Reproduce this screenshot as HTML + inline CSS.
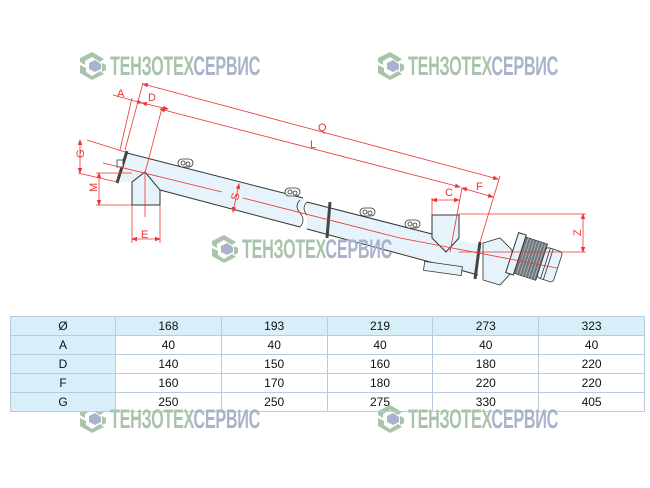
<!DOCTYPE html>
<html><head><meta charset="utf-8"><style>
html,body{margin:0;padding:0;background:#fff;width:650px;height:488px;overflow:hidden;position:relative}
svg{position:absolute;left:0;top:0}
table{position:absolute;left:10px;top:316px;width:635px;border-collapse:collapse;font-family:"Liberation Sans Narrow","Liberation Sans",sans-serif;font-size:12px;color:#111}
td{border:1px solid #b9cbdc;height:18px;padding:0;text-align:center;line-height:18px}
td.h{background:#d8eff9;width:104px}
tr.hd td{background:#d8eff9}
.wm{position:absolute;font-family:"Liberation Sans",sans-serif;font-weight:bold;font-size:27px;letter-spacing:-0.5px;transform:scaleX(0.6);transform-origin:left top;white-space:nowrap;line-height:27px}
.g{color:#a9c4aa}.b{color:#a9b3cb}
</style></head><body>
<svg width="650" height="488" viewBox="0 0 650 488" xmlns="http://www.w3.org/2000/svg">
<defs>
<marker id="ar" markerWidth="6" markerHeight="6" refX="5" refY="3" orient="auto-start-reverse" markerUnits="userSpaceOnUse"><path d="M0,0.8 L6,3 L0,5.2z" fill="#e33"/></marker>
<g id="logo">
<path d="M12,0 L24,7 L20,10 L12,5 L5,9 L5,13 L0,10 L0,6z" fill="#a9c4aa"/>
<path d="M0,13 L6,16 L6,20 L12,24 L20,19 L24,22 L12,28 L0,21z" fill="#a9c4aa"/>
<path d="M9,11 L15,8 L21,12 L21,17 L15,20 L9,17z" fill="#a9b3cb"/>
<path d="M22,11 L26,13 L26,18 L22,20z" fill="#a9c4aa"/>
</g>
</defs>
<use href="#logo" x="80" y="52"/><use href="#logo" x="378" y="52"/><use href="#logo" x="212" y="235"/><use href="#logo" x="80" y="405"/><use href="#logo" x="378" y="405"/>

<!-- tube left segment -->
<polygon points="127,153 303,198 300,227 160,190 160,205 132,205 132,182 120,182" fill="#e6f3fb"/>
<path d="M127,153 L303,198 M160,190 L300,227" stroke="#333" stroke-width="1" fill="none"/>
<polygon points="145,172 160,190 160,205 132,205 132,182" fill="#e6f3fb" stroke="#333" stroke-width="1"/>
<path d="M300,200 q-6,6 0,13 q6,7 0,14 M307,202 q-6,6 0,13 q6,7 0,14" stroke="#333" fill="none" stroke-width="0.8"/>
<!-- tube right segment -->
<polygon points="307,202 432,234 432,215 459,215 459,240 480,245 478,275 460,270 400,253 307,229" fill="#e6f3fb"/>
<path d="M307,202 L432,234 M307,229 L460,270 L478,275" stroke="#333" stroke-width="1" fill="none"/>
<polygon points="432,215 459,215 459,238 446,252 432,238" fill="#e6f3fb" stroke="#333" stroke-width="1"/>
<!-- flanges -->
<path d="M127,151 L117,183" stroke="#444" stroke-width="3"/>
<rect x="117" y="160" width="6" height="7" fill="#fff" stroke="#333" stroke-width="0.8"/>
<path d="M330,202 L327,238" stroke="#444" stroke-width="3"/>
<path d="M480,242 L475,279" stroke="#444" stroke-width="3"/>
<!-- lugs -->
<g fill="#fff" stroke="#333" stroke-width="0.8">
<rect x="178" y="159" width="15" height="8" rx="4"/><circle cx="183" cy="163" r="2"/><circle cx="188" cy="164" r="2"/>
<rect x="285" y="188" width="15" height="8" rx="4"/><circle cx="290" cy="192" r="2"/><circle cx="295" cy="193" r="2"/>
<rect x="360" y="208" width="15" height="8" rx="4"/><circle cx="365" cy="212" r="2"/><circle cx="370" cy="213" r="2"/>
<rect x="405" y="220" width="15" height="8" rx="4"/><circle cx="410" cy="224" r="2"/><circle cx="415" cy="225" r="2"/>
</g>
<rect x="424" y="264" width="38" height="9" fill="#e6f3fb" stroke="#333" stroke-width="0.8" transform="rotate(8 443 268)"/>
<!-- gearbox & motor -->
<polygon points="483,243 500,238 512,250 512,272 500,285 483,280" fill="#e6f3fb" stroke="#333" stroke-width="0.8"/>
<g transform="rotate(18 535 260)">
<rect x="511" y="239" width="8" height="42" fill="#e6f3fb" stroke="#333" stroke-width="1"/>
<rect x="519" y="241" width="23" height="38" fill="#6f7a80" stroke="#333" stroke-width="0.8"/>
<path d="M522,241v38M525,241v38M528,241v38M531,241v38M534,241v38M537,241v38M540,241v38" stroke="#ccc" stroke-width="0.6"/>
<rect x="542" y="244" width="17" height="32" rx="3" fill="#e6f3fb" stroke="#333" stroke-width="0.8"/>
<path d="M546,244v32M549,244v32" stroke="#333" stroke-width="0.8"/>
</g>

<!-- red centre/dim lines -->
<g stroke="#e33" stroke-width="0.8" fill="none">
<path d="M103,163 L222,192 M243,198 L400,238 L557,268"/>
<path d="M145,173 L145,217 M145,173 L162,108"/>
<path d="M125,150 L143,83 M120,150 L132,98"/>
<path d="M143,84 L498,179" marker-start="url(#ar)" marker-end="url(#ar)"/>
<path d="M160,109 L460,187" marker-start="url(#ar)" marker-end="url(#ar)"/>
<path d="M113,95 L142,103" marker-end="url(#ar)"/>
<path d="M142,103 L168,109" marker-start="url(#ar)" marker-end="url(#ar)"/>
<path d="M87,140 L125,152 M78,173 L117,182"/>
<path d="M80,140 L80,173" marker-start="url(#ar)" marker-end="url(#ar)"/>
<path d="M96,173 L132,173 M96,205 L132,205"/>
<path d="M99,173 L99,205" marker-start="url(#ar)" marker-end="url(#ar)"/>
<path d="M132,205 L132,243 M160,205 L160,243"/>
<path d="M132,239 L160,239" marker-start="url(#ar)" marker-end="url(#ar)"/>
<path d="M239,184 L233,212" marker-start="url(#ar)" marker-end="url(#ar)"/>
<path d="M432,198 L432,215 M462,188 L450,252 M500,176 L480,242"/>
<path d="M432,200 L459,200" marker-start="url(#ar)" marker-end="url(#ar)"/>
<path d="M462,188 L493,197" marker-start="url(#ar)" marker-end="url(#ar)"/>
<path d="M459,214 L586,214 M459,252 L586,252"/>
<path d="M583,214 L583,252" marker-start="url(#ar)" marker-end="url(#ar)"/>
</g>
<g fill="#e33" font-family="Liberation Sans,sans-serif" font-size="11">
<text x="117" y="97">A</text><text x="148" y="101">D</text>
<text x="318" y="131">Q</text><text x="310" y="148">L</text>
<text x="445" y="196">C</text><text x="476" y="190">F</text>
<text x="141" y="238">E</text>
<text transform="translate(84,158) rotate(-90)">G</text>
<text transform="translate(97,192) rotate(-90)">M</text>
<text transform="translate(238,201) rotate(-76)">S</text>
<text transform="translate(581,236) rotate(-90)">Z</text>
</g>
</svg>
<div class="wm" style="left:110px;top:53px"><span class="g">ТЕНЗОТЕХ</span><span class="b">СЕРВИС</span></div>
<div class="wm" style="left:408px;top:53px"><span class="g">ТЕНЗОТЕХ</span><span class="b">СЕРВИС</span></div>
<div class="wm" style="left:242px;top:236px"><span class="g">ТЕНЗОТЕХ</span><span class="b">СЕРВИС</span></div>
<table>
<tr class="hd"><td class="h">Ø</td><td>168</td><td>193</td><td>219</td><td>273</td><td>323</td></tr>
<tr><td class="h">A</td><td>40</td><td>40</td><td>40</td><td>40</td><td>40</td></tr>
<tr><td class="h">D</td><td>140</td><td>150</td><td>160</td><td>180</td><td>220</td></tr>
<tr><td class="h">F</td><td>160</td><td>170</td><td>180</td><td>220</td><td>220</td></tr>
<tr><td class="h">G</td><td>250</td><td>250</td><td>275</td><td>330</td><td>405</td></tr>
</table>
<div class="wm" style="left:110px;top:406px"><span class="g">ТЕНЗОТЕХ</span><span class="b">СЕРВИС</span></div>
<div class="wm" style="left:408px;top:406px"><span class="g">ТЕНЗОТЕХ</span><span class="b">СЕРВИС</span></div>
</body></html>
